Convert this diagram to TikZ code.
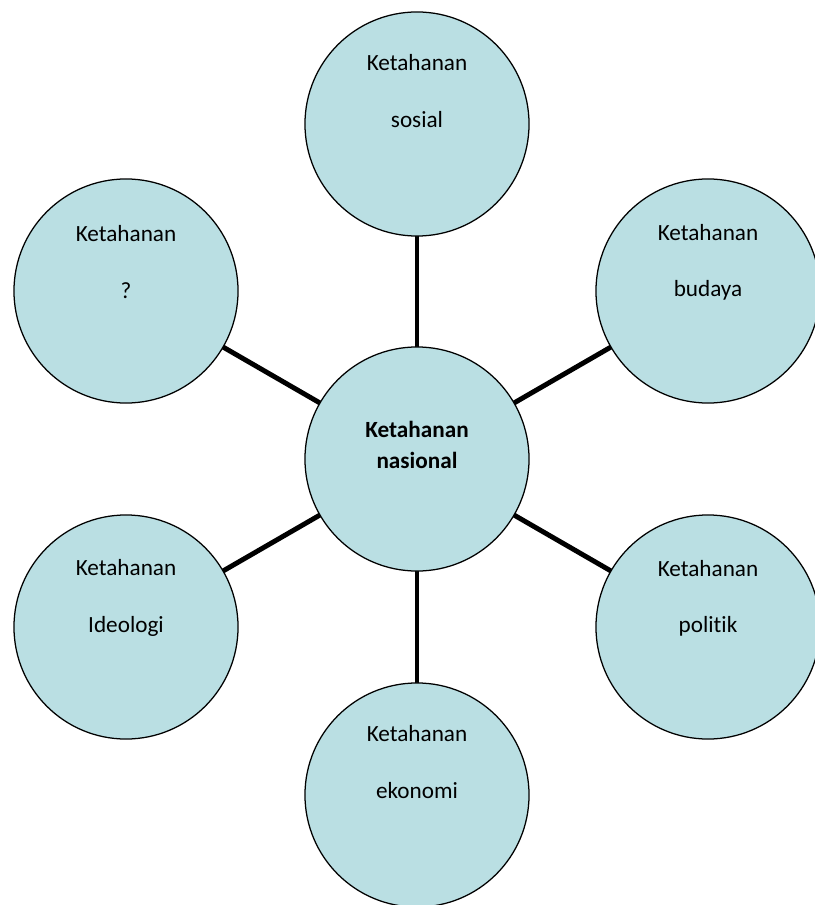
\documentclass[tikz,border=0pt]{standalone}
\usepackage{fontspec}
\setmainfont{Carlito}[Ligatures=NoCommon]
\usepackage{tikz}
\usetikzlibrary{calc,backgrounds}
\definecolor{bubblefill}{RGB}{186,223,227}

\begin{document}
\begin{tikzpicture}[x=0.025cm,y=-0.025cm,
    bubble/.style={circle,draw=black,line width=0.9pt,fill=bubblefill,minimum size=5.6cm,inner sep=0pt},
    bubbletext/.style={align=center,font=\fontsize{16.5}{40}\selectfont,inner sep=0pt},
    hubtext/.style={align=center,font=\fontsize{16.5}{22}\selectfont\bfseries,inner sep=0pt},
    spoke/.style={black,line width=3.5pt}]
            \useasboundingbox (0,0) rectangle (814,905);
            % Circles
            \node[bubble](nasional) at (417,459){};
            \node[bubble](sosial) at (417,124){};
            \node[bubble](budaya) at (708,291){};
            \node[bubble](politik) at (708,627){};
            \node[bubble](ekonomi) at (417,795){};
            \node[bubble](ideologi) at (126,627){};
            \node[bubble](tanya) at (126,291){};
            % Spokes
            \begin{scope}[on background layer]
            \foreach \n in {sosial,budaya,politik,ekonomi,ideologi,tanya}
                \draw[spoke](nasional.center)--(\n.center);
            \end{scope}
            % Labels
            \node[hubtext](tnasional) at ($(nasional)+(0,-14)$){Ketahanan\\nasional};
            \node[bubbletext](tsosial) at ($(sosial)+(0,-33)$){Ketahanan\\sosial};
            \node[bubbletext](tbudaya) at ($(budaya)+(0,-29)$){Ketahanan\\budaya};
            \node[bubbletext](tpolitik) at ($(politik)+(0,-29)$){Ketahanan\\politik};
            \node[bubbletext](tekonomi) at ($(ekonomi)+(0,-33)$){Ketahanan\\ekonomi};
            \node[bubbletext](tideologi) at ($(ideologi)+(0,-29)$){Ketahanan\\Ideologi};
            \node[bubbletext](ttanya) at ($(tanya)+(0,-29)$){Ketahanan\\?};
\end{tikzpicture}
\end{document}
